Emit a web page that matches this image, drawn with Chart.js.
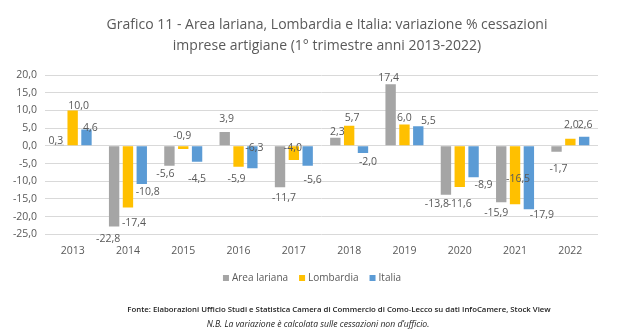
<!DOCTYPE html>
<html>
<head>
<meta charset="utf-8">
<script src="https://cdn.jsdelivr.net/npm/chart.js@4"></script>
<style>
html,body{margin:0;padding:0;background:#fff;}
#wrap{width:640px;height:336px;position:relative;}
</style>
</head>
<body>
<div id="wrap"><canvas id="c" width="640" height="336"></canvas></div>
<script>
const categories = ['2013','2014','2015','2016','2017','2018','2019','2020','2021','2022'];
const areaLariana = [0.3, -22.8, -5.6, 3.9, -11.7, 2.3, 17.4, -13.8, -15.9, -1.7];
const lombardia = [10.0, -17.4, -0.9, -5.9, -4.0, 5.7, 6.0, -11.6, -16.5, 2.0];
const italia = [4.6, -10.8, -4.5, -6.3, -5.6, -2.0, 5.5, -8.9, -17.9, 2.6];
const seriesNames = ['Area lariana', 'Lombardia', 'Italia'];
const seriesColors = ['#a5a5a5', '#ffc000', '#5b9bd5'];
const titleLines = ['Grafico 11 - Area lariana, Lombardia e Italia: variazione % cessazioni', 'imprese artigiane (1° trimestre anni 2013-2022)'];
const footerLines = ['Fonte: Elaborazioni Ufficio Studi e Statistica Camera di Commercio di Como-Lecco su dati InfoCamere, Stock View', 'N.B. La variazione è calcolata sulle cessazioni non d\u2019ufficio.'];

// label placement (style only): [dx, dy] of label centre from the bar end, in px
const labelOffsetsArea = [[-3,-4],[-6,12],[-4,8],[2,-13],[4,11],[2,-6],[-2,-6],[-9,9],[-5,11],[2,17]];
const labelOffsetsLomb = [[6,-4],[6,16],[-1,-13],[-2,12],[-1,-12],[3,-8],[0,-7],[0,17],[3,-25],[1,-14]];
const labelOffsetsItal = [[4,-2],[6,8],[0,17],[2,-20],[5,14],[5,9],[10,-5],[10,8],[13,6],[1,-12]];
const labelOffsets = [labelOffsetsArea, labelOffsetsLomb, labelOffsetsItal];

const FONT = "'Open Sans', sans-serif";
const TXT = '#595959';
const fmt = v => v.toFixed(1).replace('.', ',');

const labelPlugin = {
  id: 'barLabels',
  afterDatasetsDraw(chart) {
    const ctx = chart.ctx;
    ctx.save();
    ctx.font = '10.5px ' + FONT;
    ctx.fillStyle = TXT;
    ctx.textAlign = 'center';
    ctx.textBaseline = 'middle';
    chart.data.datasets.forEach((ds, di) => {
      const meta = chart.getDatasetMeta(di);
      meta.data.forEach((bar, i) => {
        const v = ds.data[i];
        const off = labelOffsets[di][i];
        ctx.fillText(fmt(v), bar.x + off[0], bar.y + off[1]);
      });
    });
    ctx.restore();
  }
};

const textPlugin = {
  id: 'texts',
  afterDraw(chart) {
    const ctx = chart.ctx;
    ctx.save();
    // title
    ctx.fillStyle = TXT;
    ctx.textAlign = 'center';
    ctx.textBaseline = 'middle';
    ctx.font = '14px ' + FONT;
    ctx.fillText(titleLines[0], 327, 25);
    ctx.fillText(titleLines[1], 327, 46);
    // legend
    ctx.font = '10px ' + FONT;
    const box = 6, gapBox = 3, gapItem = 11;
    const widths = seriesNames.map(n => box + gapBox + ctx.measureText(n).width);
    const total = widths.reduce((a, b) => a + b, 0) + gapItem * (seriesNames.length - 1);
    let x = 312 - total / 2;
    const ly = 278;
    ctx.textAlign = 'left';
    seriesNames.forEach((n, i) => {
      ctx.fillStyle = seriesColors[i];
      ctx.fillRect(x, ly - box / 2, box, box);
      ctx.fillStyle = TXT;
      ctx.fillText(n, x + box + gapBox, ly);
      x += widths[i] + gapItem;
    });
    // footer
    ctx.textAlign = 'center';
    ctx.fillStyle = '#222';
    ctx.font = '600 7.8px ' + FONT;
    ctx.fillText(footerLines[0], 339, 310);
    ctx.font = 'italic 8.6px ' + FONT;
    ctx.fillText(footerLines[1], 318, 325);
    ctx.restore();
  }
};

new Chart(document.getElementById('c'), {
  type: 'bar',
  data: {
    labels: categories,
    datasets: [
      { label: seriesNames[0], data: areaLariana, backgroundColor: seriesColors[0] },
      { label: seriesNames[1], data: lombardia, backgroundColor: seriesColors[1] },
      { label: seriesNames[2], data: italia, backgroundColor: seriesColors[2] }
    ]
  },
  options: {
    responsive: false,
    animation: false,
    devicePixelRatio: 1,
    categoryPercentage: 0.75,
    barPercentage: 0.75,
    layout: { padding: { left: 0, right: 42, top: 75, bottom: 69 } },
    scales: {
      x: {
        grid: { display: false, drawTicks: false },
        border: { display: false },
        ticks: { color: TXT, font: { size: 10.5, family: FONT }, padding: 10 }
      },
      y: {
        min: -25, max: 20,
        afterFit(s) { s.width = 45; },
        grid: { color: '#d9d9d9', drawTicks: false },
        border: { display: false },
        ticks: { stepSize: 5, color: TXT, font: { size: 10.5, family: FONT }, padding: 8, callback: v => fmt(v) }
      }
    },
    plugins: {
      title: { display: false },
      legend: { display: false },
      tooltip: { enabled: false }
    }
  },
  plugins: [labelPlugin, textPlugin]
});
</script>
</body>
</html>
